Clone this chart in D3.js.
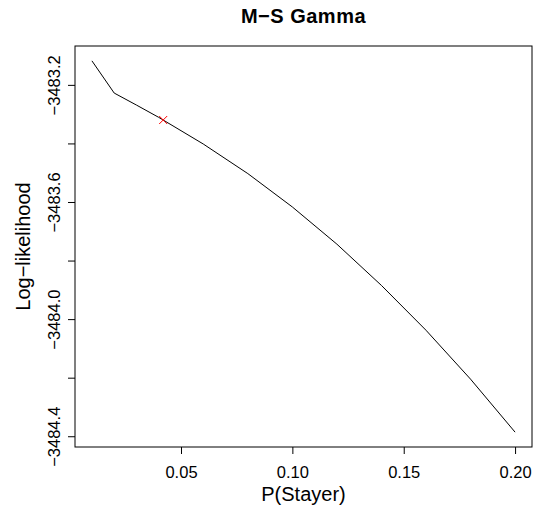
<!DOCTYPE html>
<html>
<head>
<meta charset="utf-8">
<script src="https://cdn.jsdelivr.net/npm/d3@7"></script>
<style>
  body { margin: 0; background: #fff; }
  text { font-family: "Liberation Sans", Arial, Helvetica, sans-serif; fill: #000; }
</style>
</head>
<body>
<div id="chart"></div>
<script>
// profile log-likelihood over P(Stayer)
const pStayer = [0.01, 0.02, 0.03, 0.04, 0.06, 0.08, 0.10, 0.12, 0.14, 0.16, 0.18, 0.20];
const logLik = [-3483.118, -3483.228, -3483.269, -3483.311, -3483.402, -3483.503,
                -3483.617, -3483.744, -3483.885, -3484.038, -3484.205, -3484.386];
// maximum marked with a red cross
const maxPoint = [0.042, -3483.320];
const xTicks = [0.05, 0.10, 0.15, 0.20];
const yTicks = [-3483.2, -3483.4, -3483.6, -3483.8, -3484.0, -3484.2, -3484.4];
const yLabelled = [-3483.2, -3483.6, -3484.0, -3484.4];

const width = 535, height = 509;
const margin = { top: 46, right: 3, bottom: 62, left: 75 };

const svg = d3.select("#chart").append("svg")
    .attr("width", width)
    .attr("height", height);

// R style 4% padding on the data range
function pad(ext) {
    const d = (ext[1] - ext[0]) * 0.04;
    return [ext[0] - d, ext[1] + d];
}

const x = d3.scaleLinear()
    .domain(pad(d3.extent(pStayer)))
    .range([margin.left, width - margin.right]);

const y = d3.scaleLinear()
    .domain(pad(d3.extent(logLik)))
    .range([height - margin.bottom, margin.top]);

const minus = s => s.replace("-", "\u2212");

// x axis
const xAxis = svg.append("g")
    .attr("transform", "translate(0," + (height - margin.bottom) + ")")
    .call(d3.axisBottom(x).tickValues(xTicks).tickSize(7).tickPadding(12)
        .tickFormat(d3.format(".2f")));
xAxis.select(".domain").remove();
xAxis.selectAll("line").attr("stroke", "#000");
xAxis.selectAll("text").style("font-size", "16.5px").attr("fill", "#000");

// y axis
const yAxis = svg.append("g")
    .attr("transform", "translate(" + margin.left + ",0)")
    .call(d3.axisLeft(y).tickValues(yTicks).tickSize(7)
        .tickFormat(d => yLabelled.some(v => Math.abs(v - d) < 1e-9) ? minus(d3.format(".1f")(d)) : ""));
yAxis.select(".domain").remove();
yAxis.selectAll("line").attr("stroke", "#000");
yAxis.selectAll("text")
    .style("font-size", "16.5px")
    .attr("fill", "#000")
    .attr("x", null).attr("dy", null)
    .attr("text-anchor", "middle")
    .attr("transform", "translate(-15,0) rotate(-90)");

// box
svg.append("rect")
    .attr("x", margin.left)
    .attr("y", margin.top)
    .attr("width", width - margin.left - margin.right)
    .attr("height", height - margin.top - margin.bottom)
    .attr("fill", "none")
    .attr("stroke", "#000")
    .attr("stroke-width", 1);

// line
const line = d3.line()
    .x((d, i) => x(pStayer[i]))
    .y(d => y(d));

svg.append("path")
    .datum(logLik)
    .attr("d", line)
    .attr("fill", "none")
    .attr("stroke", "#000")
    .attr("stroke-width", 1);

// red cross
const cx = x(maxPoint[0]), cy = y(maxPoint[1]), r = 4;
svg.append("path")
    .attr("d", `M${cx - r},${cy - r}L${cx + r},${cy + r}M${cx - r},${cy + r}L${cx + r},${cy - r}`)
    .attr("stroke", "#ff0000")
    .attr("stroke-width", 1)
    .attr("fill", "none");

// titles
const midX = (margin.left + width - margin.right) / 2;
svg.append("text")
    .attr("x", midX)
    .attr("y", 23)
    .attr("text-anchor", "middle")
    .style("font-size", "20px")
    .style("font-weight", "bold")
    .style("letter-spacing", "0.5px")
    .text("M\u2212S Gamma");

svg.append("text")
    .attr("x", midX)
    .attr("y", 501)
    .attr("text-anchor", "middle")
    .style("font-size", "20px")
    .text("P(Stayer)");

svg.append("text")
    .attr("transform", "translate(30," + ((margin.top + height - margin.bottom) / 2) + ") rotate(-90)")
    .attr("text-anchor", "middle")
    .style("font-size", "20px")
    .text("Log\u2212likelihood");
</script>
</body>
</html>
